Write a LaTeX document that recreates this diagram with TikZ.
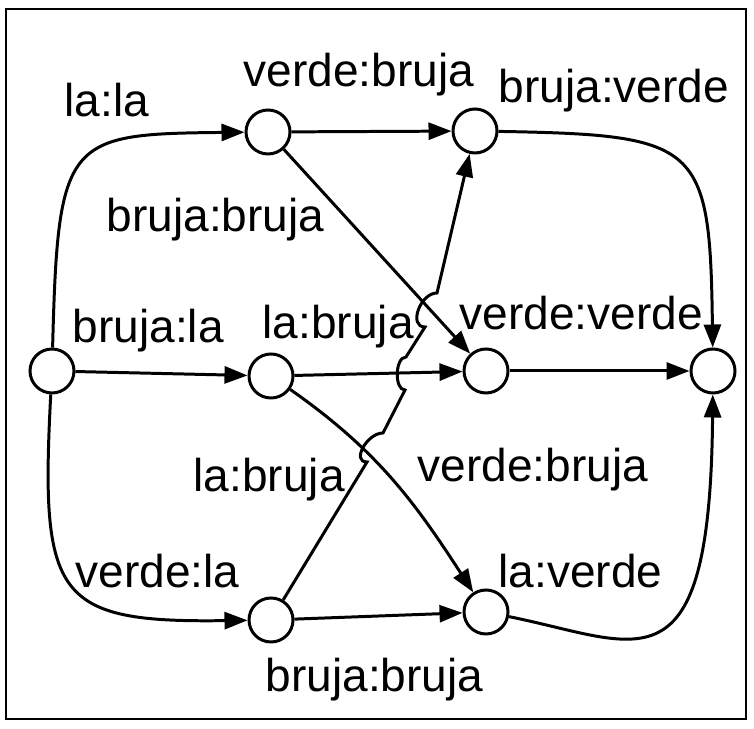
\documentclass[tikz,border=0pt]{standalone}
\usepackage{fontspec}
\setmainfont{Liberation Sans}
\usetikzlibrary{arrows.meta}

\begin{document}
\begin{tikzpicture}[
    state/.style={draw,circle,fill=white,line width=0.85pt,minimum size=0.44cm,inner sep=0pt},
    edge/.style={line width=0.85pt,-{Triangle[length=0.23cm,width=0.17cm]}},
    lbl/.style={anchor=base west,inner sep=0pt,font=\fontsize{13.1}{15}\selectfont}
]
    \useasboundingbox (0,0) rectangle (7.54,7.28);

    % Frame
    \draw[line width=0.7pt] (0.06,0.09) rectangle (7.46,7.19);

    % States
    \node[state] (s) at (0.52,3.57) {};
    \node[state] (tl) at (2.68,5.96) {};
    \node[state] (tr) at (4.75,5.97) {};
    \node[state] (ml) at (2.71,3.52) {};
    \node[state] (m) at (4.86,3.57) {};
    \node[state] (e) at (7.13,3.57) {};
    \node[state] (bl) at (2.71,1.08) {};
    \node[state] (br) at (4.86,1.16) {};

    % Jump points of the crossing edge
    \coordinate (jin1) at (3.67,2.66);
    \coordinate (jout1) at (3.83,2.95);
    \coordinate (jin2) at (4.05,3.38);
    \coordinate (jout2) at (4.06,3.71);
    \coordinate (jin3) at (4.25,4.01);
    \coordinate (jout3) at (4.37,4.35);

    % Edges
    \draw[edge] (s) .. controls (0.58,5.90) and (0.66,5.94) .. (tl);
    \draw[edge] (s) -- (ml);
    \draw[edge] (s) .. controls (0.40,1.30) and (0.55,1.05) .. (bl);
    \draw[edge] (tl) -- (tr);
    \draw[edge] (tl) -- (m);
    \draw[edge] (ml) -- (m);
    \draw[edge] (ml) to[out=-35,in=123] (br);
    \draw[edge] (bl) -- (br);
    \draw[edge] (bl) -- (jin1) .. controls +(-0.16,0) and +(-0.16,0) .. (jout1)
        -- (jin2) .. controls +(-0.11,0) and +(-0.11,0) .. (jout2)
        -- (jin3) .. controls +(-0.17,0) and +(-0.17,0) .. (jout3) -- (tr);
    \draw[edge] (tr) .. controls (7.00,5.93) and (7.10,5.85) .. (e);
    \draw[edge] (m) -- (e);
    \draw[edge] (br) .. controls (6.40,0.85) and (7.10,0.30) .. (e);

    % Labels
    \node[lbl] (lab1) at (0.64,6.11) {la:la};
    \node[lbl] (lab2) at (2.43,6.41) {verde:bruja};
    \node[lbl] (lab3) at (4.98,6.25) {bruja:verde};
    \node[lbl] (lab4) at (1.06,4.96) {bruja:bruja};
    \node[lbl] (lab5) at (0.72,3.85) {bruja:la};
    \node[lbl] (lab6) at (2.62,3.89) {la:bruja};
    \node[lbl] (lab7) at (4.59,3.98) {verde:verde};
    \node[lbl] (lab8) at (1.93,2.36) {la:bruja};
    \node[lbl] (lab9) at (4.17,2.46) {verde:bruja};
    \node[lbl] (lab10) at (0.75,1.40) {verde:la};
    \node[lbl] (lab11) at (4.98,1.40) {la:verde};
    \node[lbl] (lab12) at (2.65,0.36) {bruja:bruja};
\end{tikzpicture}
\end{document}
